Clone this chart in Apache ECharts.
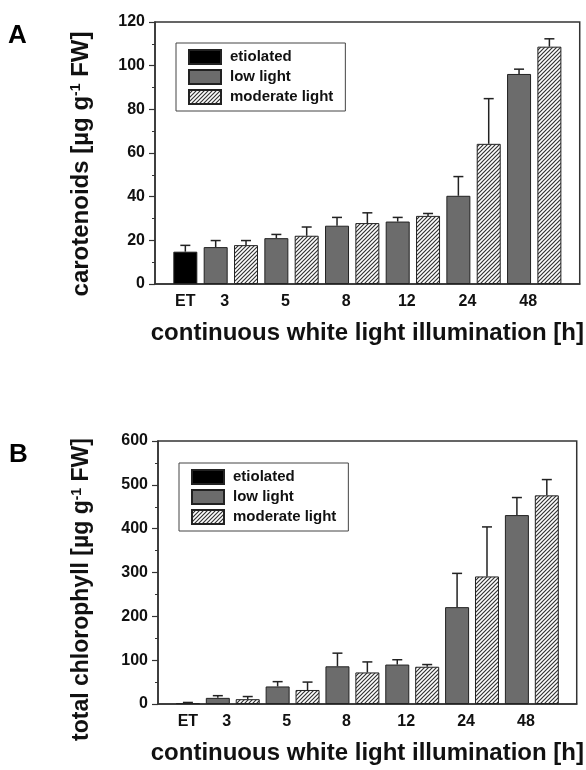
<!DOCTYPE html>
<html>
<head>
<meta charset="utf-8">
<script src="https://cdn.jsdelivr.net/npm/echarts@6/dist/echarts.min.js"></script>
<style>
  html, body { margin: 0; padding: 0; background: #fff; }
  #chart { width: 586px; height: 770px; }
</style>
</head>
<body>
<div id="chart"></div>
<script>
// ---------- data ----------
const categories = ['ET', '3', '5', '8', '12', '24', '48'];
const seriesNames = ['etiolated', 'low light', 'moderate light'];

// Panel A: carotenoids [µg g-1 FW]
const carEtiolated = [14.8];
const carEtiolatedErr = [2.9];
const carLow = [16.9, 21.0, 26.7, 28.6, 40.4, 96.2];
const carLowErr = [3.0, 1.7, 3.8, 1.9, 8.8, 2.2];
const carMod = [17.8, 22.1, 27.9, 31.2, 64.2, 108.7];
const carModErr = [2.1, 4.0, 4.7, 1.1, 20.7, 3.6];
const carTicks = [0, 20, 40, 60, 80, 100, 120];

// Panel B: total chlorophyll [µg g-1 FW]
const chlEtiolated = [2.0];
const chlEtiolatedErr = [1.5];
const chlLow = [14, 40, 86, 90, 221, 431];
const chlLowErr = [5, 11, 30, 11, 77, 40];
const chlMod = [11, 32, 72, 85, 291, 476];
const chlModErr = [6, 18, 24, 5, 113, 36];
const chlTicks = [0, 100, 200, 300, 400, 500, 600];

// ---------- layout helpers ----------
const FONT = '"Liberation Sans", Arial, Helvetica, sans-serif';
// bar slot positions on a 0..14 value axis: ET at 1, low at 2+2g, moderate at 3+2g
const etPos = [1];
const lowPos = carLow.map((_, g) => 2 + 2 * g);
const modPos = carMod.map((_, g) => 3 + 2 * g);
const labelPos = [1].concat(lowPos.map(p => p + 0.3));

function hatchPattern() {
  const s = 4;
  const c = document.createElement('canvas');
  c.width = s; c.height = s;
  const ctx = c.getContext('2d');
  ctx.fillStyle = '#ffffff';
  ctx.fillRect(0, 0, s, s);
  ctx.strokeStyle = '#333333';
  ctx.lineWidth = 1.2;
  ctx.beginPath();
  ctx.moveTo(-1, s + 1); ctx.lineTo(s + 1, -1);
  ctx.moveTo(-1, 1); ctx.lineTo(1, -1);
  ctx.moveTo(s - 1, s + 1); ctx.lineTo(s + 1, s - 1);
  ctx.stroke();
  return { image: c, repeat: 'repeat' };
}
const hatch = hatchPattern();

function pairs(pos, vals) { return pos.map((p, i) => [p, vals[i]]); }
function triples(pos, vals, errs) { return pos.map((p, i) => [p, vals[i], errs[i]]); }

function errRender(params, api) {
  const x = api.value(0), y = api.value(1), e = api.value(2);
  const p0 = api.coord([x, y]);
  const p1 = api.coord([x, y + e]);
  const st = { stroke: '#222', lineWidth: 1.5 };
  return {
    type: 'group',
    children: [
      { type: 'line', shape: { x1: p0[0], y1: p0[1], x2: p1[0], y2: p1[1] }, style: st },
      { type: 'line', shape: { x1: p1[0] - 5, y1: p1[1], x2: p1[0] + 5, y2: p1[1] }, style: st }
    ]
  };
}

function xAxisCfg(gridIndex) {
  return {
    type: 'value', gridIndex, min: 0, max: 14,
    name: 'continuous white light illumination [h]',
    nameLocation: 'middle', nameGap: 37,
    nameTextStyle: { fontFamily: FONT, fontSize: 24, fontWeight: 'bold', color: '#111' },
    axisLine: { show: true, lineStyle: { color: '#333', width: 1.5 } },
    axisTick: { show: false },
    splitLine: { show: false },
    axisLabel: {
      customValues: labelPos,
      margin: 10,
      fontFamily: FONT, fontSize: 16, fontWeight: 'bold', color: '#111',
      formatter: function (v) {
        let best = 0, bd = 1e9;
        labelPos.forEach((p, i) => { const d = Math.abs(p - v); if (d < bd) { bd = d; best = i; } });
        return categories[best];
      }
    }
  };
}

function yAxisCfg(gridIndex, ticks, name, gap, fontSize, shiftPad) {
  return {
    type: 'value', gridIndex,
    min: ticks[0], max: ticks[ticks.length - 1], interval: ticks[1] - ticks[0],
    name: name, nameLocation: 'middle', nameGap: gap,
    nameTextStyle: {
      fontFamily: FONT, fontSize: fontSize, fontWeight: 'bold', color: '#111',
      padding: [0, shiftPad, 0, 0],
      rich: { sup: { fontFamily: FONT, fontSize: 14, fontWeight: 'bold', color: '#111', verticalAlign: 'top' } }
    },
    axisLine: { show: true, lineStyle: { color: '#333', width: 1.5 } },
    axisTick: { show: true, length: 6, lineStyle: { color: '#333', width: 1.2 } },
    minorTick: { show: true, splitNumber: 2, length: 3, lineStyle: { color: '#333', width: 1 } },
    splitLine: { show: false },
    axisLabel: { margin: 10, fontFamily: FONT, fontSize: 16, fontWeight: 'bold', color: '#111' }
  };
}

const barBase = { type: 'bar', barWidth: 24, barGap: '-100%', z: 2 };
const darkBorder = { borderColor: '#222', borderWidth: 1 };

function panelSeries(idx, et, etErr, low, lowErr, mod, modErr) {
  return [
    Object.assign({}, barBase, { name: seriesNames[0], xAxisIndex: idx, yAxisIndex: idx,
      itemStyle: Object.assign({ color: '#000' }, darkBorder), data: pairs(etPos, et) }),
    Object.assign({}, barBase, { name: seriesNames[1], xAxisIndex: idx, yAxisIndex: idx,
      itemStyle: Object.assign({ color: '#6c6c6c' }, darkBorder), data: pairs(lowPos, low) }),
    Object.assign({}, barBase, { name: seriesNames[2], xAxisIndex: idx, yAxisIndex: idx,
      itemStyle: Object.assign({ color: hatch }, darkBorder), data: pairs(modPos, mod) }),
    { type: 'custom', name: 'err' + idx, xAxisIndex: idx, yAxisIndex: idx, z: 3,
      renderItem: errRender, encode: { x: 0, y: 1 },
      data: triples(etPos, et, etErr).concat(triples(lowPos, low, lowErr), triples(modPos, mod, modErr)) }
  ];
}

function legendCfg(left, top) {
  return {
    left: left, top: top, orient: 'vertical',
    data: seriesNames, icon: 'rect',
    itemWidth: 32, itemHeight: 14, itemGap: 4,
    padding: [6, 12, 6, 12],
    borderColor: '#444', borderWidth: 1,
    textStyle: { fontFamily: FONT, fontSize: 15, fontWeight: 'bold', color: '#111', padding: [0, 0, 0, 4] },
    selectedMode: false
  };
}

const chart = echarts.init(document.getElementById('chart'), null, { renderer: 'canvas' });
chart.setOption({
  animation: false,
  backgroundColor: '#fff',
  grid: [
    { left: 155, top: 22, width: 425, height: 262, show: true, borderColor: '#333', borderWidth: 1.5, backgroundColor: 'transparent' },
    { left: 158, top: 441, width: 426, height: 263, show: true, borderColor: '#333', borderWidth: 1.5, backgroundColor: 'transparent' }
  ],
  xAxis: [xAxisCfg(0), xAxisCfg(1)],
  yAxis: [
    yAxisCfg(0, carTicks, 'carotenoids [µg g{sup|-1} FW]', 62, 24, 22),
    yAxisCfg(1, chlTicks, 'total chlorophyll [µg g{sup|-1} FW]', 65, 23, 34)
  ],
  legend: [legendCfg(176, 43), legendCfg(179, 463)],
  graphic: [
    { type: 'text', left: 8, top: 23, style: { text: 'A', fontFamily: FONT, fontSize: 26, fontWeight: 'bold', fill: '#000' } },
    { type: 'text', left: 9, top: 442, style: { text: 'B', fontFamily: FONT, fontSize: 26, fontWeight: 'bold', fill: '#000' } }
  ],
  series: panelSeries(0, carEtiolated, carEtiolatedErr, carLow, carLowErr, carMod, carModErr)
    .concat(panelSeries(1, chlEtiolated, chlEtiolatedErr, chlLow, chlLowErr, chlMod, chlModErr))
});
</script>
</body>
</html>
